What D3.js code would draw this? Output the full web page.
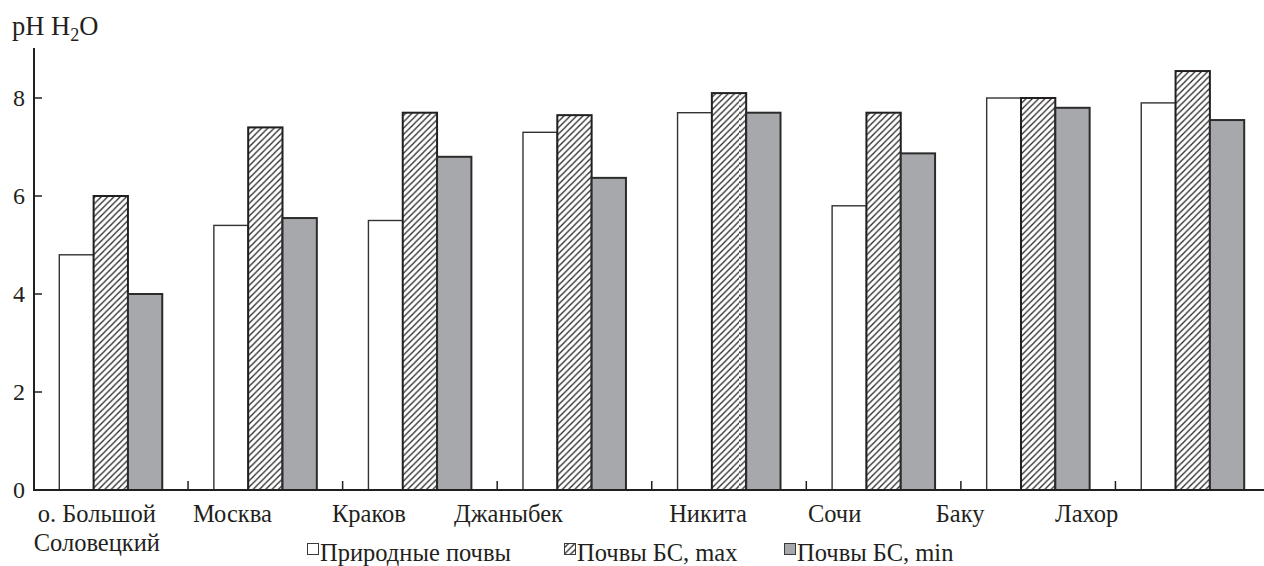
<!DOCTYPE html>
<html>
<head>
<meta charset="utf-8">
<script src="https://cdn.jsdelivr.net/npm/d3@7"></script>
<style>
  html, body { margin: 0; padding: 0; background: #fff; }
  svg text { font-family: "Liberation Serif", "DejaVu Serif", serif; fill: #231f20; }
</style>
</head>
<body>
<svg id="chart" width="1264" height="566"></svg>
<script>
// Sites (two-line label for the first one)
const sites = ["о. Большой\nСоловецкий", "Москва", "Краков", "Джаныбек", "Никита", "Сочи", "Баку", "Лахор"];
// pH (H2O) of natural soils and of botanical-garden soils (max / min)
const naturalPH = [4.8, 5.4, 5.5, 7.3, 7.7, 5.8, 8.0, 7.9];
const gardenMaxPH = [6.0, 7.4, 7.7, 7.65, 8.1, 7.7, 8.0, 8.55];
const gardenMinPH = [4.0, 5.55, 6.8, 6.37, 7.7, 6.87, 7.8, 7.55];
const seriesNames = ["Природные почвы", "Почвы БС, max", "Почвы БС, min"];
const yTicks = [0, 2, 4, 6, 8];

const svg = d3.select("#chart");
const ink = "#231f20";

const series = [
  { name: seriesNames[0], values: naturalPH, fill: "#ffffff", stroke: "#333333", sw: 1.4 },
  { name: seriesNames[1], values: gardenMaxPH, fill: "url(#hatch)", stroke: "#231f20", sw: 2 },
  { name: seriesNames[2], values: gardenMinPH, fill: "#a7a8ac", stroke: "#2b2b2b", sw: 2 }
];

// Diagonal hatch for the "max" series
const defs = svg.append("defs");
const pat = defs.append("pattern")
  .attr("id", "hatch")
  .attr("patternUnits", "userSpaceOnUse")
  .attr("width", 6.3).attr("height", 6.3);
pat.append("rect").attr("width", 6.3).attr("height", 6.3).attr("fill", "#fff");
pat.append("path")
  .attr("d", "M0,6.3 L6.3,0 M-1.6,1.6 L1.6,-1.6 M4.7,7.9 L7.9,4.7")
  .attr("stroke", "#2a2a2a").attr("stroke-width", 1.3);

const x0 = 33.5, x1 = 1270, yBase = 490, yTop = 49;

const x = d3.scaleBand().domain(d3.range(sites.length)).range([x0, x1]).padding(0);
const groupPad = 25.8;
const xInner = d3.scaleBand().domain(d3.range(series.length))
  .range([groupPad, x.bandwidth() - groupPad]).padding(0);
const y = d3.scaleLinear().domain([0, 9]).range([yBase, yTop]);

// Bars
const groups = svg.append("g").selectAll("g")
  .data(sites.map((s, i) => i))
  .join("g")
  .attr("transform", i => `translate(${x(i)},0)`);

groups.selectAll("rect")
  .data(i => series.map((s, k) => ({ k, v: s.values[i], s })))
  .join("rect")
  .attr("x", d => xInner(d.k))
  .attr("width", xInner.bandwidth())
  .attr("y", d => y(d.v))
  .attr("height", d => y(0) - y(d.v))
  .attr("fill", d => d.s.fill)
  .attr("stroke", d => d.s.stroke)
  .attr("stroke-width", d => d.s.sw);

// Y axis: line, inward ticks, labels
const axisX = 34;
svg.append("line")
  .attr("x1", axisX).attr("x2", axisX)
  .attr("y1", 48).attr("y2", yBase)
  .attr("stroke", ink).attr("stroke-width", 2);
svg.append("g").selectAll("line")
  .data(yTicks.filter(t => t > 0))
  .join("line")
  .attr("x1", axisX).attr("x2", axisX + 8)
  .attr("y1", d => y(d)).attr("y2", d => y(d))
  .attr("stroke", ink).attr("stroke-width", 1.5);
svg.append("g").selectAll("text")
  .data(yTicks)
  .join("text")
  .attr("x", 25).attr("y", d => y(d))
  .attr("dy", "0.35em")
  .attr("text-anchor", "end")
  .attr("font-size", 24)
  .text(d => d);

// X axis line and group separators
svg.append("line")
  .attr("x1", axisX - 1).attr("x2", 1264)
  .attr("y1", yBase).attr("y2", yBase)
  .attr("stroke", ink).attr("stroke-width", 2);
svg.append("g").selectAll("line")
  .data(d3.range(1, sites.length))
  .join("line")
  .attr("x1", i => x(i)).attr("x2", i => x(i))
  .attr("y1", yBase).attr("y2", yBase - 9)
  .attr("stroke", ink).attr("stroke-width", 1.5);

// Category labels
const labelShift = [-14, -33, -51, -66, -21, -49, -78, -106];
const cat = svg.append("g").selectAll("text")
  .data(sites.map((s, i) => i))
  .join("text")
  .attr("x", i => x(i) + x.bandwidth() / 2 + labelShift[i])
  .attr("y", 522)
  .attr("text-anchor", "middle")
  .attr("font-size", 24.5);
cat.selectAll("tspan")
  .data(i => sites[i].split("\n"))
  .join("tspan")
  .attr("x", function () { return d3.select(this.parentNode).attr("x"); })
  .attr("dy", (d, j) => j === 0 ? 0 : 29)
  .text(d => d);

// Y axis title: pH H2O
const title = svg.append("text").attr("x", 12).attr("y", 35).attr("font-size", 26.5);
title.append("tspan").text("pH H");
title.append("tspan").attr("font-size", 18).attr("dy", 6).text("2");
title.append("tspan").attr("dy", -6).text("O");

// Legend
const legendX = [307, 564, 784];
const legend = svg.append("g").selectAll("g")
  .data(series)
  .join("g")
  .attr("transform", (d, k) => `translate(${legendX[k]},0)`);
legend.append("rect")
  .attr("x", 0.5).attr("y", 543.5)
  .attr("width", 11).attr("height", 11)
  .attr("fill", d => d.fill)
  .attr("stroke", "#3a3a3a").attr("stroke-width", 1);
legend.append("text")
  .attr("x", 13).attr("y", 561)
  .attr("font-size", 24.5)
  .text(d => d.name);
</script>
</body>
</html>
